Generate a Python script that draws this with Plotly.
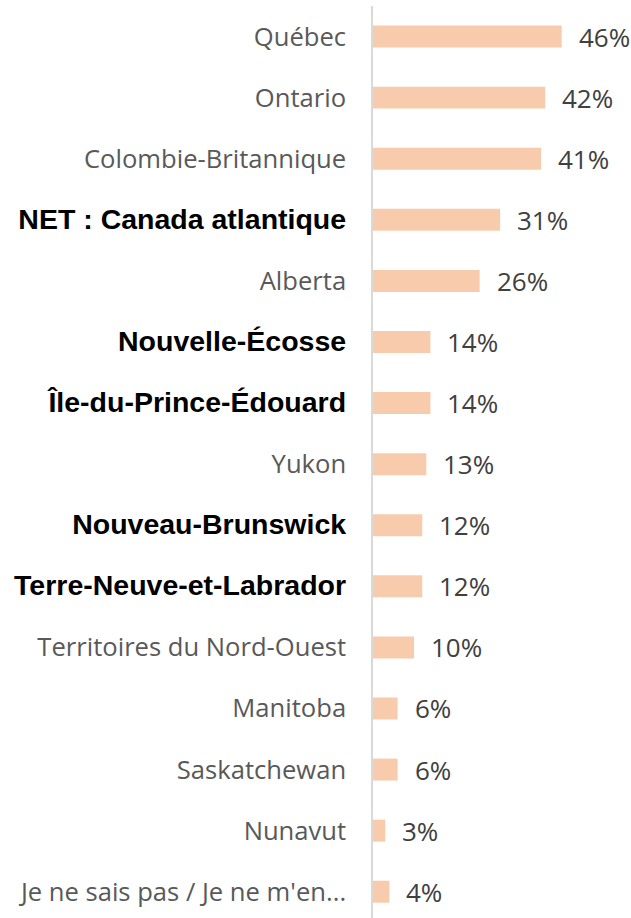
import plotly.graph_objects as go

categories = [
    "Québec", "Ontario", "Colombie-Britannique", "NET : Canada atlantique",
    "Alberta", "Nouvelle-Écosse", "Île-du-Prince-Édouard", "Yukon",
    "Nouveau-Brunswick", "Terre-Neuve-et-Labrador", "Territoires du Nord-Ouest",
    "Manitoba", "Saskatchewan", "Nunavut", "Je ne sais pas / Je ne m'en..."
]
values = [46, 42, 41, 31, 26, 14, 14, 13, 12, 12, 10, 6, 6, 3, 4]
bold_flags = [False, False, False, True, False, True, True, False, True, True,
              False, False, False, False, False]
value_labels = [f"{v}%" for v in values]

BAR = "#F8CBAD"
REG_FONT = "Open Sans"
BOLD_FONT = "Liberation Sans"

ticktext = []
for c, b in zip(categories, bold_flags):
    if b:
        ticktext.append(
            f'<span style="font-family:{BOLD_FONT};font-size:28.5px;color:#000000"><b>{c}</b></span>'
        )
    else:
        ticktext.append(c)

fig = go.Figure()
fig.add_trace(go.Bar(
    x=values, y=categories, orientation="h",
    marker=dict(color=BAR, line=dict(width=0)),
    hoverinfo="skip",
))

for c, v, t in zip(categories, values, value_labels):
    fig.add_annotation(
        x=v, y=c, text=t, showarrow=False, xanchor="left", yanchor="middle",
        xshift=15, font=dict(family=REG_FONT, size=26, color="#404040"),
    )

fig.update_layout(
    width=631, height=918,
    margin=dict(l=373, r=0, t=6, b=0),
    paper_bgcolor="white", plot_bgcolor="white",
    bargap=0.64, showlegend=False,
)
fig.update_xaxes(range=[0, 62.9], visible=False, showgrid=False, zeroline=False)
fig.update_yaxes(
    categoryorder="array", categoryarray=categories,
    range=[14.43, -0.5],
    tickmode="array", tickvals=categories, ticktext=ticktext,
    ticks="", ticklabelstandoff=20,
    showline=True, linecolor="#D9D9D9", linewidth=1.5,
    showgrid=False, zeroline=False,
    tickfont=dict(family=REG_FONT, size=25.6, color="#595959"),
)

fig.write_html(
    "out.html",
    config={"displayModeBar": False},
    post_script="document.body.style.margin='0';document.body.style.overflow='hidden';",
)
